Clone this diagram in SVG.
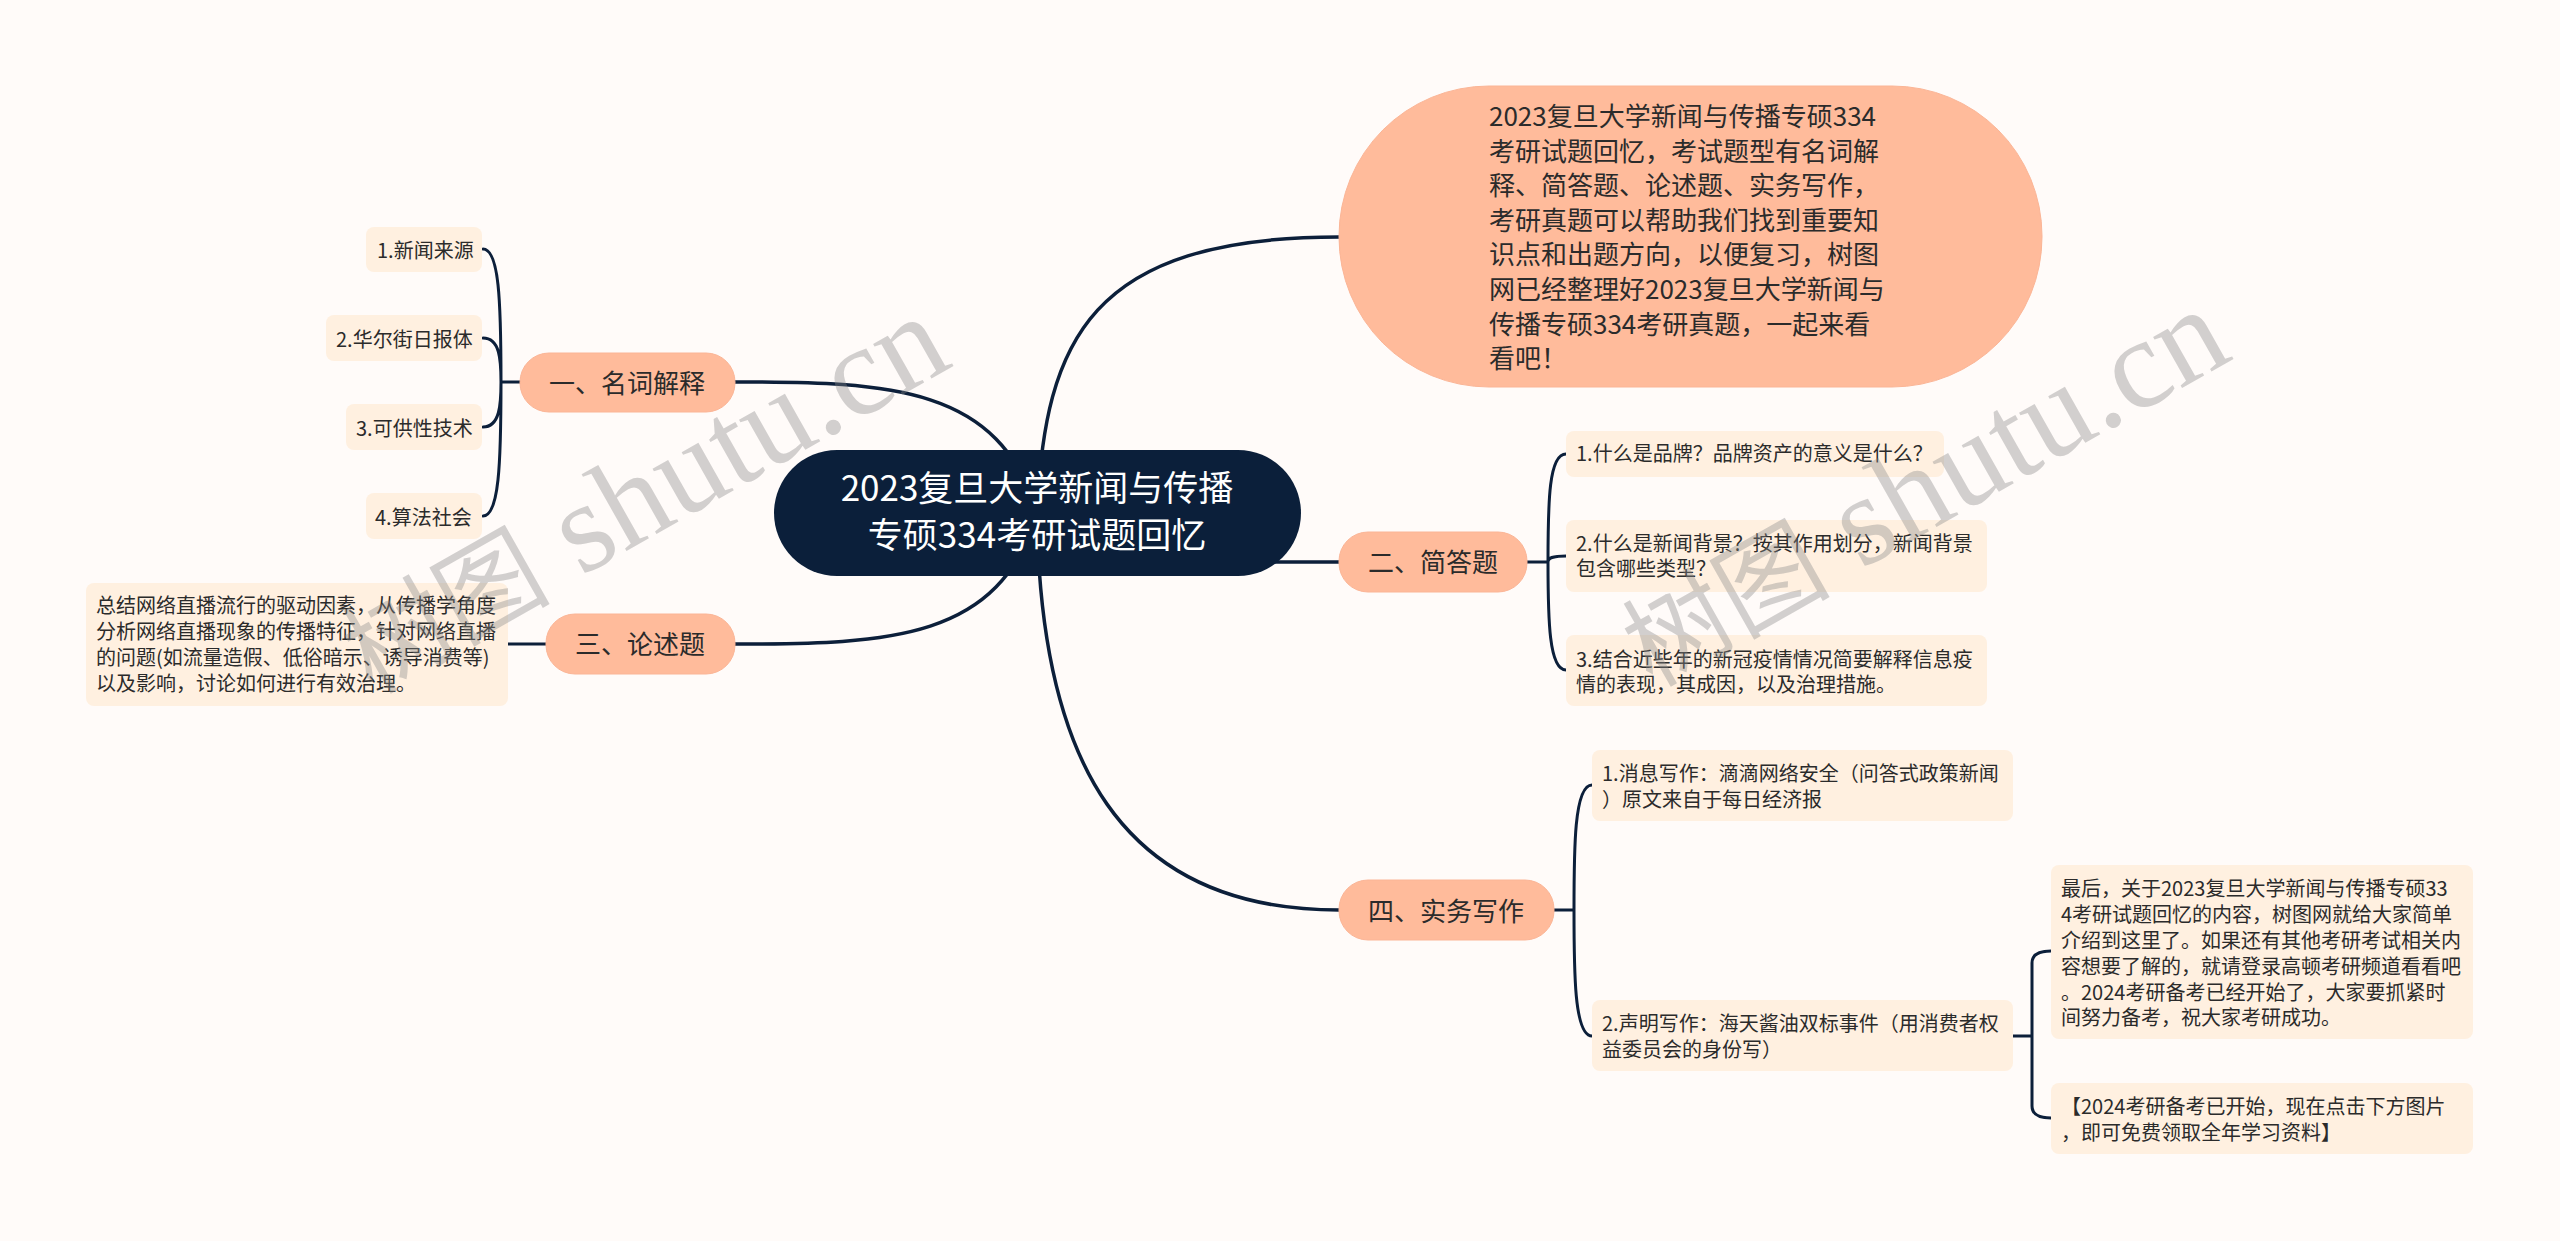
<svg xmlns="http://www.w3.org/2000/svg" width="2560" height="1241" viewBox="0 0 2560 1241">
<style>
text{font-family:"Noto Sans CJK SC","Noto Sans",sans-serif;fill:#2b2b2b}
.leaf{fill:#fff0e0}
.topic{fill:#ffbb9b;stroke:#fbb596;stroke-width:1}
.l{font-size:20px}
.t{font-size:26px;text-anchor:middle}
.r{font-size:35px;text-anchor:middle;fill:#fff}
.d{font-size:26px}
.c{fill:none;stroke:#0c1f3a;stroke-width:3;stroke-linecap:round}
.m{stroke-width:3.500}
.w{font-family:"Liberation Serif","Noto Sans CJK SC",serif;font-size:128px;fill:#8a8a8a;fill-opacity:.38}
.wc{font-size:104px}
</style>
<rect width="2560" height="1241" fill="#fffbf9"/>
<g id="connectors">
<path class="c m" d="M1037 513C1045 340 1090 237 1339 237"/>
<path class="c m" d="M735 382C890 382 1000 386 1037 513"/>
<path class="c m" d="M735 644C890 644 1000 640 1037 513"/>
<path class="c m" d="M1250 562H1339"/>
<path class="c m" d="M1037 513C1040 760 1120 910 1339 910"/>
<path class="c" d="M520 382H501M501 382C501 300 499 249 483 249M501 382C501 360 500 338 483 338M501 382C501 404 500 427 483 427M501 382C501 464 499 516 483 516"/>
<path class="c" d="M508 644H546"/>
<path class="c" d="M1527 562H1548M1548 562C1548 500 1549 454 1566 454M1548 562C1548 558 1552 556 1566 556M1548 562C1548 620 1549 670 1566 670"/>
<path class="c" d="M1554 910H1574M1574 910C1574 850 1574 785 1592 785M1574 910C1574 970 1574 1036 1592 1036"/>
<path class="c" d="M2013 1036H2032M2032 1036V963Q2032 951 2051 951M2032 1036V1106Q2032 1118 2051 1118"/>
</g>
<g id="root"><rect x="774" y="450" width="527" height="126" rx="63" fill="#0b1f3a"/>
<text class="r" x="1037" y="501">2023复旦大学新闻与传播</text><text class="r" x="1037" y="548">专硕334考研试题回忆</text></g>
<g id="intro"><rect class="topic" x="1339" y="86" width="703" height="301" rx="150"/>
<text class="d"><tspan x="1489" y="126">2023复旦大学新闻与传播专硕334</tspan><tspan x="1489" y="160.600">考研试题回忆，考试题型有名词解</tspan><tspan x="1489" y="195.200">释、简答题、论述题、实务写作，</tspan><tspan x="1489" y="229.800">考研真题可以帮助我们找到重要知</tspan><tspan x="1489" y="264.400">识点和出题方向，以便复习，树图</tspan><tspan x="1489" y="299">网已经整理好2023复旦大学新闻与</tspan><tspan x="1489" y="333.600">传播专硕334考研真题，一起来看</tspan><tspan x="1489" y="368.200">看吧！</tspan></text></g>
<g id="topic1"><rect class="topic" x="520" y="353" width="215" height="59" rx="29"/><text class="t" x="627" y="392.500">一、名词解释</text></g>
<g id="topic2"><rect class="topic" x="1339" y="532" width="188" height="60" rx="29"/><text class="t" x="1433" y="572">二、简答题</text></g>
<g id="topic3"><rect class="topic" x="546" y="614" width="189" height="60" rx="29"/><text class="t" x="640" y="654">三、论述题</text></g>
<g id="topic4"><rect class="topic" x="1339" y="880" width="215" height="60" rx="29"/><text class="t" x="1446" y="920.500">四、实务写作</text></g>
<g id="n1-1"><rect class="leaf" x="366" y="227" width="116" height="45" rx="8"/><text class="l" x="377" y="257.500">1.新闻来源</text></g>
<g id="n1-2"><rect class="leaf" x="326" y="315" width="156" height="46" rx="8"/><text class="l" x="336" y="346.500">2.华尔街日报体</text></g>
<g id="n1-3"><rect class="leaf" x="346" y="404" width="136" height="46" rx="8"/><text class="l" x="356" y="435.500">3.可供性技术</text></g>
<g id="n1-4"><rect class="leaf" x="366" y="493" width="116" height="46" rx="8"/><text class="l" x="375" y="524.500">4.算法社会</text></g>
<g id="n3-1"><rect class="leaf" x="86" y="583" width="422" height="123" rx="8"/><text class="l"><tspan x="96" y="613">总结网络直播流行的驱动因素，从传播学角度</tspan><tspan x="96" y="639">分析网络直播现象的传播特征，针对网络直播</tspan><tspan x="96" y="665">的问题(如流量造假、低俗暗示、诱导消费等)</tspan><tspan x="96" y="691">以及影响，讨论如何进行有效治理。</tspan></text></g>
<g id="n2-1"><rect class="leaf" x="1566" y="431" width="378" height="46" rx="8"/><text class="l" x="1576" y="461">1.什么是品牌？品牌资产的意义是什么？</text></g>
<g id="n2-2"><rect class="leaf" x="1566" y="520" width="421" height="72" rx="8"/><text class="l"><tspan x="1576" y="551">2.什么是新闻背景？按其作用划分，新闻背景</tspan><tspan x="1576" y="576">包含哪些类型？</tspan></text></g>
<g id="n2-3"><rect class="leaf" x="1566" y="635" width="421" height="71" rx="8"/><text class="l"><tspan x="1576" y="667">3.结合近些年的新冠疫情情况简要解释信息疫</tspan><tspan x="1576" y="692">情的表现，其成因，以及治理措施。</tspan></text></g>
<g id="n4-1"><rect class="leaf" x="1592" y="750" width="421" height="71" rx="8"/><text class="l"><tspan x="1602" y="781">1.消息写作：滴滴网络安全（问答式政策新闻</tspan><tspan x="1602" y="807">）原文来自于每日经济报</tspan></text></g>
<g id="n4-2"><rect class="leaf" x="1592" y="1000" width="421" height="71" rx="8"/><text class="l"><tspan x="1602" y="1031">2.声明写作：海天酱油双标事件（用消费者权</tspan><tspan x="1602" y="1057">益委员会的身份写）</tspan></text></g>
<g id="n4-2-1"><rect class="leaf" x="2051" y="865" width="422" height="174" rx="8"/><text class="l"><tspan x="2061" y="896">最后，关于2023复旦大学新闻与传播专硕33</tspan><tspan x="2061" y="922">4考研试题回忆的内容，树图网就给大家简单</tspan><tspan x="2061" y="948">介绍到这里了。如果还有其他考研考试相关内</tspan><tspan x="2061" y="974">容想要了解的，就请登录高顿考研频道看看吧</tspan><tspan x="2061" y="1000">。2024考研备考已经开始了，大家要抓紧时</tspan><tspan x="2061" y="1025">间努力备考，祝大家考研成功。</tspan></text></g>
<g id="n4-2-2"><rect class="leaf" x="2051" y="1083" width="422" height="71" rx="8"/><text class="l"><tspan x="2061" y="1114">【2024考研备考已开始，现在点击下方图片</tspan><tspan x="2061" y="1140">，即可免费领取全年学习资料】</tspan></text></g>
<g id="watermarks"><text class="w" transform="translate(372 695) rotate(-29.500)"><tspan class="wc">树图</tspan> shutu.cn</text><text class="w" transform="translate(1652 688) rotate(-29.500)"><tspan class="wc">树图</tspan> shutu.cn</text></g>
</svg>
